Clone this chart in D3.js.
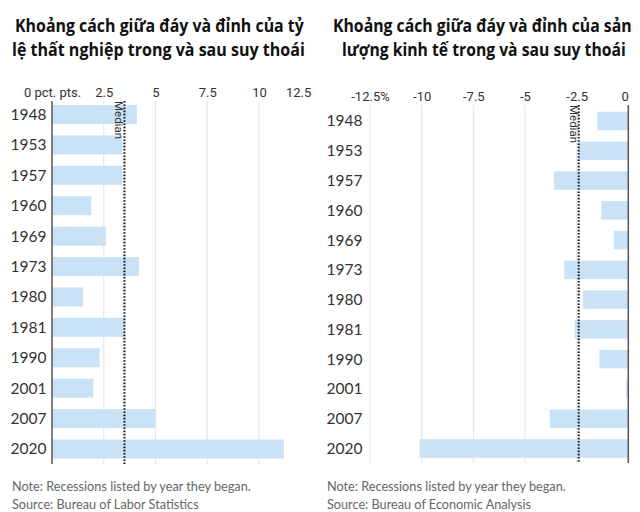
<!DOCTYPE html>
<html><head><meta charset="utf-8">
<script src="https://cdn.jsdelivr.net/npm/d3@7"></script>
<style>body{margin:0;background:#fff}svg{display:block}</style>
</head><body>
<svg id="c" width="640" height="512"></svg>
<script>
const years = ["1948","1953","1957","1960","1969","1973","1980","1981","1990","2001","2007","2020"];
const unemploymentGap = [4.1,3.4,3.4,1.9,2.6,4.2,1.5,3.5,2.3,2.0,5.0,11.2];
const outputGap = [-1.5,-2.4,-3.6,-1.3,-0.7,-3.1,-2.2,-2.6,-1.4,-0.1,-3.8,-10.1];
const unemploymentMedian = 3.5;
const outputMedian = -2.4;
const leftTicks = [0,2.5,5,7.5,10,12.5];
const leftTickLabels = ["0 pct. pts.","2.5","5","7.5","10","12.5"];
const rightTicks = [-12.5,-10,-7.5,-5,-2.5,0];
const rightTickLabels = ["-12.5%","-10","-7.5","-5","-2.5","0"];
const leftTitle = ["Khoảng cách giữa đáy và đỉnh của tỷ","lệ thất nghiệp trong và sau suy thoái"];
const rightTitle = ["Khoảng cách giữa đáy và đỉnh của sản","lượng kinh tế trong và sau suy thoái"];
const leftNotes = ["Note: Recessions listed by year they began.","Source: Bureau of Labor Statistics"];
const rightNotes = ["Note: Recessions listed by year they began.","Source: Bureau of Economic Analysis"];

const svg = d3.select("#c");
const narrow = "Roboto, 'Open Sans', sans-serif";
const sans = "Lato, 'Open Sans', sans-serif";

function panel(o){
  const g = svg.append("g");
  // title (condensed horizontally to match the narrow original face)
  g.append("g").selectAll("text").data(o.title).join("text")
    .attr("x",0).attr("y",0)
    .attr("font-family","'Open Sans', sans-serif").attr("font-weight","bold").attr("font-size",17.5).attr("fill","#111")
    .text(d=>d)
    .each(function(d,i){
      const w = this.getComputedTextLength();
      d3.select(this).attr("transform",`translate(${o.titleX[i]},${32+i*23.5}) scale(${o.titleW[i]/w},1)`);
    });

  const x = d3.scaleLinear().domain(o.domain).range(o.range);
  const y = d3.scalePoint().domain(years).range(o.yRange);
  const top = o.gridTop, bot = o.gridBot;

  // grid
  g.append("g").selectAll("line").data(o.grid).join("line")
    .attr("x1",d=>x(d)).attr("x2",d=>x(d)).attr("y1",top).attr("y2",bot)
    .attr("stroke","#e8e8e8").attr("stroke-width",1.2);

  // tick labels via axis
  const ax = d3.axisTop(x).tickValues(o.ticks).tickSize(0).tickPadding(0)
    .tickFormat((d,i)=>o.tickLabels[i]);
  const axg = g.append("g").attr("transform",`translate(0,${o.tickY})`).call(ax);
  axg.select(".domain").remove();
  axg.selectAll("text").attr("font-family",narrow).attr("font-size",13).attr("fill","#333")
    .attr("dy","0.35em")
    .attr("text-anchor",(d,i)=>o.anchor[i]);

  // bars
  g.append("g").selectAll("rect").data(o.values).join("rect")
    .attr("x",d=>Math.min(x(0),x(d))).attr("width",d=>Math.abs(x(d)-x(0)))
    .attr("y",(d,i)=>y(years[i])-o.barH/2).attr("height",o.barH)
    .attr("fill","#cae2f5");

  // zero axis line
  g.append("line").attr("x1",x(0)).attr("x2",x(0)).attr("y1",top).attr("y2",bot)
    .attr("stroke","#555").attr("stroke-width",1.5);

  // median
  g.append("line").attr("x1",x(o.median)).attr("x2",x(o.median)).attr("y1",top).attr("y2",bot)
    .attr("stroke","#111").attr("stroke-width",2).attr("stroke-dasharray","1.6,1.6");
  g.append("text").attr("transform",`translate(${x(o.median)-9},${top}) rotate(90)`)
    .attr("font-family",narrow).attr("font-size",11.5).attr("fill","#333").text("Median");

  // year labels
  g.append("g").selectAll("text").data(years).join("text")
    .attr("x",o.labelX).attr("y",d=>y(d)).attr("dy","0.35em").attr("text-anchor","end")
    .attr("font-family",sans).attr("font-size",15.5).attr("fill","#333").text(d=>d);

  // notes
  g.append("g").selectAll("text").data(o.notes).join("text")
    .attr("x",o.noteX).attr("y",(d,i)=>o.noteY+i*18).attr("dy","0.35em")
    .attr("font-family",sans).attr("font-size",12.7).attr("fill","#666").text(d=>d);
}

panel({title:leftTitle,titleX:[15,12],titleW:[289,293],domain:[0,12.5],range:[52,310.75],yRange:[114.5,449],
  gridTop:101,gridBot:464,grid:[2.5,5,7.5,10],ticks:leftTicks,tickLabels:leftTickLabels,
  anchor:["middle","middle","middle","middle","middle","end"],tickY:92.5,
  values:unemploymentGap,barH:19,median:unemploymentMedian,labelX:46.5,
  notes:leftNotes,noteX:12,noteY:487});

panel({title:rightTitle,titleX:[333,342],titleW:[299,284],domain:[-12.5,0],range:[370,628.3],yRange:[121,448.5],
  gridTop:105,gridBot:463,grid:[-12.5,-10,-7.5,-5,-2.5],ticks:rightTicks,tickLabels:rightTickLabels,
  anchor:["middle","middle","middle","middle","middle","end"],tickY:96.5,
  values:outputGap,barH:18.5,median:outputMedian,labelX:362.5,
  notes:rightNotes,noteX:327,noteY:486.5});
</script>
</body></html>
